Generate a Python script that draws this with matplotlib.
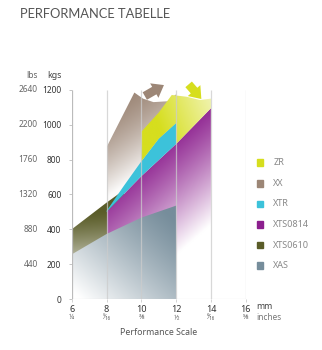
import numpy as np
import matplotlib
matplotlib.use('Agg')
import matplotlib.pyplot as plt
from matplotlib.patches import Polygon, Rectangle, FancyArrowPatch
from matplotlib.colors import to_rgb
from matplotlib.transforms import blended_transform_factory

plt.rcParams['font.family'] = ['Noto Sans', 'DejaVu Sans']

# achsen
kgs_ticks = [0, 200, 400, 600, 800, 1000, 1200]
lbs_labels = ['', '440', '880', '1320', '1760', '2200', '2640']
mm_ticks = [6, 8, 10, 12, 14, 16]
inch_labels = ['¼', '⁵⁄₁₆', '⅜', '½', '⁹⁄₁₆', '⅝']

# flaechen (mm -> kg)
xas_x = [6, 8, 10, 12]
xas_top = [256, 373, 467, 536]

xts0610_x = [6, 8, 9]
xts0610_top = [400, 553, 625]

xts0814_x = [8, 10, 12, 14]
xts0814_top = [500, 705, 890, 1095]

xtr_x = [8, 9, 10, 11, 12]
xtr_top = [505, 650, 790, 920, 1010]

zr_x = [10, 11, 11.75, 12.6, 13.37, 14]
zr_top = [960, 1070, 1171, 1161, 1142, 1150]

xx_x = [8, 9.6, 10.1, 10.7, 11.5, 12]
xx_top = [871, 1185, 1150, 1130, 1135, 1175]

series = ['ZR', 'XX', 'XTR', 'XTS0814', 'XTS0610', 'XAS']
colors = {'ZR': '#d6de1e', 'XX': '#9c8676', 'XTR': '#3cc2da',
          'XTS0814': '#8c1f8e', 'XTS0610': '#5a5c28', 'XAS': '#768d9b'}


def grad_fill(ax, xs, ys, color, start, end, mix=1.0, gamma=1.0, z=1):
    """Polygon mit linearem Verlauf nach weiss"""
    poly = Polygon(list(zip(xs, ys)), closed=True, facecolor='none',
                   edgecolor='none', transform=ax.transData)
    ax.add_patch(poly)
    x0, x1 = min(xs), max(xs)
    y0, y1 = min(ys), max(ys)
    X, Y = np.meshgrid(np.linspace(x0, x1, 300), np.linspace(y0, y1, 300))
    dx = end[0] - start[0]
    dy = (end[1] - start[1]) / 100.0
    t = ((X - start[0]) * dx + (Y - start[1]) / 100.0 * dy) / (dx * dx + dy * dy)
    t = (np.clip(t, 0, 1) ** gamma)[..., None] * mix
    base = np.array(to_rgb(color))
    img = base * (1 - t) + np.ones(3) * t
    im = ax.imshow(img, extent=(x0, x1, y0, y1), origin='lower',
                   aspect='auto', zorder=z, interpolation='bilinear')
    im.set_clip_path(poly)


fig = plt.figure(figsize=(3.22, 3.5), dpi=100)
ax = fig.add_axes([0.2227, 0.1457, 0.5404, 0.6272])

# XX (hinten)
grad_fill(ax, xx_x + [12, 8], xx_top + [0, 0], colors['XX'],
          (8.9, 1180), (11.4, 820), mix=0.96, gamma=1.5, z=1)
# XTS0610
grad_fill(ax, xts0610_x + [9, 6], xts0610_top + [0, 0], colors['XTS0610'],
          (6.8, 500), (7.0, 230), mix=0.62, gamma=1.3, z=2)
# XTS0814
grad_fill(ax, xts0814_x + [14, 8], xts0814_top + [0, 0], colors['XTS0814'],
          (10.3, 850), (14.0, 430), mix=1.0, gamma=1.2, z=3)
# XAS
grad_fill(ax, xas_x + [12, 6], xas_top + [0, 0], colors['XAS'],
          (11.0, 540), (6.3, 20), mix=1.0, gamma=1.2, z=4)
# XTR
xtr_bottom = list(np.interp(xtr_x, xts0814_x, xts0814_top))
ax.fill(xtr_x + xtr_x[::-1], xtr_top + xtr_bottom[::-1],
        color=colors['XTR'], lw=0, zorder=5)
# ZR
zr_low_x = [10, 11, 12, 12, 14]
zr_low_y = [xtr_top[2], xtr_top[3], xtr_top[4], xts0814_top[2], xts0814_top[3]]
grad_fill(ax, zr_x + zr_low_x[::-1], zr_top + zr_low_y[::-1], colors['ZR'],
          (11.0, 1000), (14.0, 1120), mix=0.62, z=6)

# pfeile
arr = 'simple,head_width=1.2,head_length=0.8,tail_width=0.62'
ax.add_patch(FancyArrowPatch((10.2, 1165), (11.3, 1228), arrowstyle=arr,
                             mutation_scale=10, color=colors['XX'], lw=0,
                             shrinkA=0, shrinkB=0, clip_on=False, zorder=7))
ax.add_patch(FancyArrowPatch((12.72, 1232), (13.45, 1148), arrowstyle=arr,
                             mutation_scale=10, color=colors['ZR'], lw=0,
                             shrinkA=0, shrinkB=0, clip_on=False, zorder=7))

# raster
ax.vlines(mm_ticks[1:], 0, 1200, color='#cccccc', lw=0.9, alpha=0.75, zorder=8)
ax.vlines(6, 0, 1200, color='#bbbbbb', lw=0.9, zorder=8)
ax.hlines(0, 6, 16, color='#cccccc', lw=0.8, zorder=8)

ax.set_xlim(6, 16)
ax.set_ylim(0, 1260)
for s in ax.spines.values():
    s.set_visible(False)

ax.set_yticks(kgs_ticks)
ax.set_yticklabels([str(v) for v in kgs_ticks], fontsize=6, fontweight='bold',
                   color='#333333')
ax.tick_params(axis='y', length=2, width=0.6, color='#bbbbbb', pad=5.5)
ax.set_xticks(mm_ticks)
ax.set_xticklabels([str(v) for v in mm_ticks], fontsize=6.5, color='#333333')
ax.tick_params(axis='x', length=2, width=0.6, color='#cccccc', pad=2.5)

tr = blended_transform_factory(ax.transAxes, ax.transData)
for v, lab in zip(kgs_ticks, lbs_labels):
    ax.text(-0.195, v, lab, transform=tr, ha='right', va='center',
            fontsize=6, color='#666666')
ax.text(-0.195, 1.02, 'lbs', transform=ax.transAxes, ha='right', va='center',
        fontsize=6, color='#666666')
ax.text(-0.0557, 1.02, 'kgs', transform=ax.transAxes, ha='right', va='center',
        fontsize=6.3, color='#444444')

trx = blended_transform_factory(ax.transData, ax.transAxes)
for v, lab in zip(mm_ticks, inch_labels):
    ax.text(v, -0.085, lab, transform=trx, ha='center', va='center',
            fontsize=5, color='#666666')
ax.text(1.063, -0.036, 'mm', transform=ax.transAxes, ha='left', va='center',
        fontsize=6.3, color='#444444')
ax.text(1.063, -0.085, 'inches', transform=ax.transAxes, ha='left', va='center',
        fontsize=6, color='#777777')
ax.text(0.5, -0.1535, 'Performance Scale', transform=ax.transAxes,
        ha='center', va='center', fontsize=6.3, color='#555555')

# legende
for i, name in enumerate(series):
    yc = 1 - (162.7 + i * 20.6) / 350
    fig.patches.append(Rectangle((0.797, yc - 0.0096), 0.0208, 0.0191,
                                 transform=fig.transFigure, color=colors[name]))
    fig.text(0.849, yc, name, ha='left', va='center', fontsize=6.5, color='#888888')

fig.text(0.062, 0.961, 'PERFORMANCE TABELLE', ha='left', va='center',
         fontsize=9.3, color='#555555', fontweight='normal',
         family=['Lato', 'DejaVu Sans'])

fig.savefig('out.png', dpi=100)
